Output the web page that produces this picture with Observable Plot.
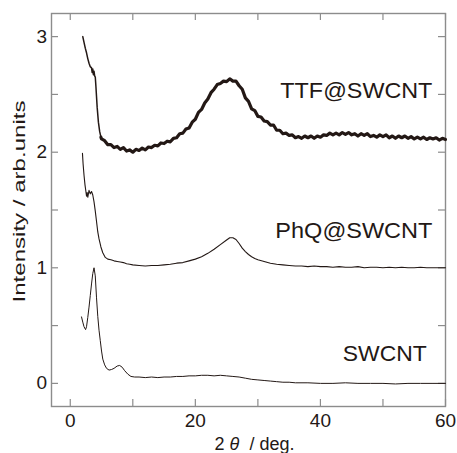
<!DOCTYPE html>
<html>
<head>
<meta charset="utf-8">
<script src="https://cdn.jsdelivr.net/npm/d3@7"></script>
<script src="https://cdn.jsdelivr.net/npm/@observablehq/plot@0.6"></script>
<style>
  html, body { margin: 0; padding: 0; background: #fff; }
</style>
</head>
<body>
<div id="chart"></div>
<script>
// ---- data ----
const ttfX = [2.0,2.2,2.4,2.6,2.8,3.0,3.2,3.4,3.5,3.6,3.7,3.8,3.9,4.0,4.1,4.2,4.3,4.5,4.7,4.9,
  5.0,5.5,6.0,6.5,7.0,7.5,8.0,8.5,9.0,9.5,10.0,10.5,11.0,11.5,12.0,12.5,13.0,13.5,14.0,14.5,
  15.0,15.5,16.0,16.5,17.0,17.5,18.0,18.5,19.0,19.5,20.0,20.5,21.0,21.5,22.0,22.5,23.0,23.5,24.0,24.5,
  25.0,25.5,26.0,26.5,27.0,27.5,28.0,28.5,29.0,29.5,30.0,30.5,31.0,31.5,32.0,32.5,33.0,33.5,34.0,34.5,
  35.0,35.5,36.0,36.5,37.0,37.5,38.0,38.5,39.0,39.5,40.0,40.5,41.0,41.5,42.0,42.5,43.0,43.5,44.0,44.5,
  45.0,45.5,46.0,46.5,47.0,47.5,48.0,48.5,49.0,49.5,50.0,50.5,51.0,51.5,52.0,52.5,53.0,53.5,54.0,54.5,
  55.0,55.5,56.0,56.5,57.0,57.5,58.0,58.5,59.0,59.5,60.0];
const ttfY = [3.0,2.95,2.90,2.86,2.81,2.77,2.74,2.73,2.69,2.72,2.67,2.70,2.66,2.65,2.57,2.48,2.39,2.26,2.18,2.13,
  2.115,2.10,2.065,2.065,2.04,2.05,2.025,2.04,2.01,2.02,2.00,2.025,2.015,2.035,2.02,2.045,2.04,2.06,2.055,2.08,
  2.075,2.095,2.09,2.12,2.125,2.16,2.165,2.2,2.21,2.26,2.285,2.345,2.37,2.425,2.46,2.515,2.545,2.585,2.595,2.615,
  2.61,2.635,2.615,2.615,2.575,2.545,2.47,2.44,2.375,2.36,2.31,2.305,2.27,2.265,2.235,2.235,2.19,2.19,2.16,2.165,
  2.145,2.15,2.125,2.135,2.12,2.14,2.125,2.14,2.12,2.14,2.13,2.15,2.145,2.165,2.15,2.165,2.15,2.17,2.155,2.17,
  2.15,2.16,2.14,2.16,2.145,2.16,2.135,2.145,2.13,2.15,2.135,2.15,2.125,2.14,2.12,2.14,2.125,2.14,2.12,2.135,
  2.115,2.13,2.115,2.13,2.11,2.125,2.115,2.125,2.105,2.12,2.11];

const phqX = [1.95,2.05,2.2,2.35,2.5,2.6,2.7,2.8,2.9,3.0,3.2,3.4,3.6,3.8,4.0,4.2,4.4,4.6,4.9,5.2,5.6,6.0,6.5,7,7.5,8,8.5,9,9.5,10,
  11,12,13,14,15,16,17,18,19,20,21,22,23,24,25,25.5,26,26.5,27,27.5,28,28.5,29,29.5,30,
  31,32,33,34,35,36,37,38,39,40,41,42,43,44,45,46,47,48,49,50,51,52,53,54,55,56,57,58,59,60];
const phqY = [1.99,1.90,1.80,1.72,1.66,1.62,1.65,1.61,1.64,1.67,1.64,1.66,1.63,1.57,1.49,1.40,1.31,1.25,1.18,1.13,1.09,1.075,1.07,1.06,1.055,1.05,1.045,1.035,1.03,1.025,
  1.02,1.015,1.02,1.02,1.025,1.03,1.04,1.045,1.06,1.075,1.095,1.125,1.16,1.20,1.24,1.26,1.26,1.245,1.21,1.17,1.14,1.115,1.095,1.08,1.07,
  1.055,1.04,1.03,1.025,1.02,1.015,1.015,1.01,1.015,1.01,1.01,1.005,1.01,1.005,1.005,1.01,1.0,1.005,1.005,1.0,1.005,1.0,1.005,1.0,1.0,1.005,1.0,1.0,1.0,1.0];

const swX = [1.8,2.0,2.2,2.45,2.6,2.8,3.0,3.2,3.4,3.6,3.8,4.0,4.2,4.4,4.6,4.8,5.0,5.2,5.5,5.8,6.2,6.6,7.0,7.5,7.9,8.3,8.7,9.2,9.7,10.3,
  11,12,13,14,15,16,17,18,19,20,21,22,23,24,25,26,27,28,29,30,31,32,33,34,35,36,38,40,42,44,46,48,50,52,54,56,58,60];
const swY = [0.575,0.53,0.49,0.465,0.49,0.57,0.66,0.76,0.86,0.95,1.0,0.93,0.74,0.58,0.46,0.37,0.28,0.21,0.16,0.13,0.115,0.12,0.13,0.15,0.155,0.14,0.11,0.08,0.06,0.055,
  0.055,0.05,0.055,0.05,0.055,0.055,0.06,0.06,0.065,0.065,0.07,0.07,0.065,0.07,0.065,0.06,0.055,0.045,0.035,0.03,0.025,0.02,0.015,0.01,0.01,0.005,0.005,0.0,0.0,0.005,0.0,0.0,0.0,-0.005,0.0,0.0,0.0,0.0];

const labelNames = ["TTF@SWCNT", "PhQ@SWCNT", "SWCNT"];
const labelX = [57.9, 57.9, 57.0];
const labelY = [2.47, 1.26, 0.195];

const xTicks = [0, 10, 20, 30, 40, 50, 60];
const xTickLabels = [0, 20, 40, 60];
const yTicks = [0, 0.5, 1, 1.5, 2, 2.5, 3];
const yTickLabels = [0, 1, 2, 3];

const xTitle = "2θ / deg.";
const yTitle = "Intensity / arb.units";

// ---- build tables ----
const ttf = ttfX.map((x, i) => ({x, y: ttfY[i]}));
const phq = phqX.map((x, i) => ({x, y: phqY[i]}));
const sw = swX.map((x, i) => ({x, y: swY[i]}));

const ink = "#231815";
const frameColor = "#8c8c8c";

const chart = Plot.plot({
  width: 457,
  height: 453,
  marginLeft: 51,
  marginRight: 12,
  marginTop: 13,
  marginBottom: 47,
  style: {fontFamily: "'Liberation Sans', Arial, sans-serif", fontSize: "19px", color: ink, background: "#fff"},
  x: {domain: [-3, 60], ticks: xTickLabels, tickFormat: d => String(d), tickSize: 0, tickPadding: 7, label: null},
  y: {domain: [-0.2, 3.2], ticks: yTickLabels, tickFormat: d => String(d), tickSize: 0, tickPadding: 4.5, label: null},
  marks: [
    Plot.frame({stroke: frameColor, strokeWidth: 1.4}),
    Plot.tickX(xTicks, {x: d => d, stroke: frameColor, strokeWidth: 1.2, insetTop: 386}),
    Plot.tickX(xTicks, {x: d => d, stroke: frameColor, strokeWidth: 1.2, insetBottom: 386}),
    Plot.tickY(yTicks, {y: d => d, stroke: frameColor, strokeWidth: 1.2, insetRight: 387}),
    Plot.tickY(yTicks, {y: d => d, stroke: frameColor, strokeWidth: 1.2, insetLeft: 387}),
    Plot.line(sw, {x: "x", y: "y", stroke: ink, strokeWidth: 1}),
    Plot.line(phq, {x: "x", y: "y", stroke: ink, strokeWidth: 1.1}),
    Plot.line(ttf.slice(0, 20), {x: "x", y: "y", stroke: ink, strokeWidth: 1.5}),
    Plot.line(ttf.slice(19), {x: "x", y: "y", stroke: ink, strokeWidth: 3.2}),
    Plot.text(labelNames, {x: labelX, y: labelY, text: d => d, textAnchor: "end", lineAnchor: "bottom", fontSize: 22, fill: ink}),
    Plot.text([xTitle], {frameAnchor: "bottom", text: d => d, dx: 6, dy: 43, lineAnchor: "bottom", fontSize: 18, fill: ink}),
    Plot.text([yTitle], {frameAnchor: "left", text: d => d, rotate: -90, dx: -26.5, dy: -8.5, lineAnchor: "bottom", textAnchor: "middle", fontSize: 17, fill: ink})
  ]
});

// stretch texts to the reference's measured lengths and italicise theta
const lengths = {"TTF@SWCNT": 152, "PhQ@SWCNT": 157, "SWCNT": 84, "Intensity / arb.units": 202};
d3.select(chart).selectAll("text").each(function() {
  const t = this.textContent;
  if (lengths[t]) {
    this.setAttribute("textLength", lengths[t]);
    this.setAttribute("lengthAdjust", "spacingAndGlyphs");
  }
  if (t === xTitle) {
    const el = d3.select(this);
    el.text(null).style("white-space", "pre");
    el.append("tspan").text("2 ");
    el.append("tspan").attr("font-style", "italic").text("θ");
    el.append("tspan").text("  / deg.");
  }
});

document.getElementById("chart").appendChild(chart);
</script>
</body>
</html>
